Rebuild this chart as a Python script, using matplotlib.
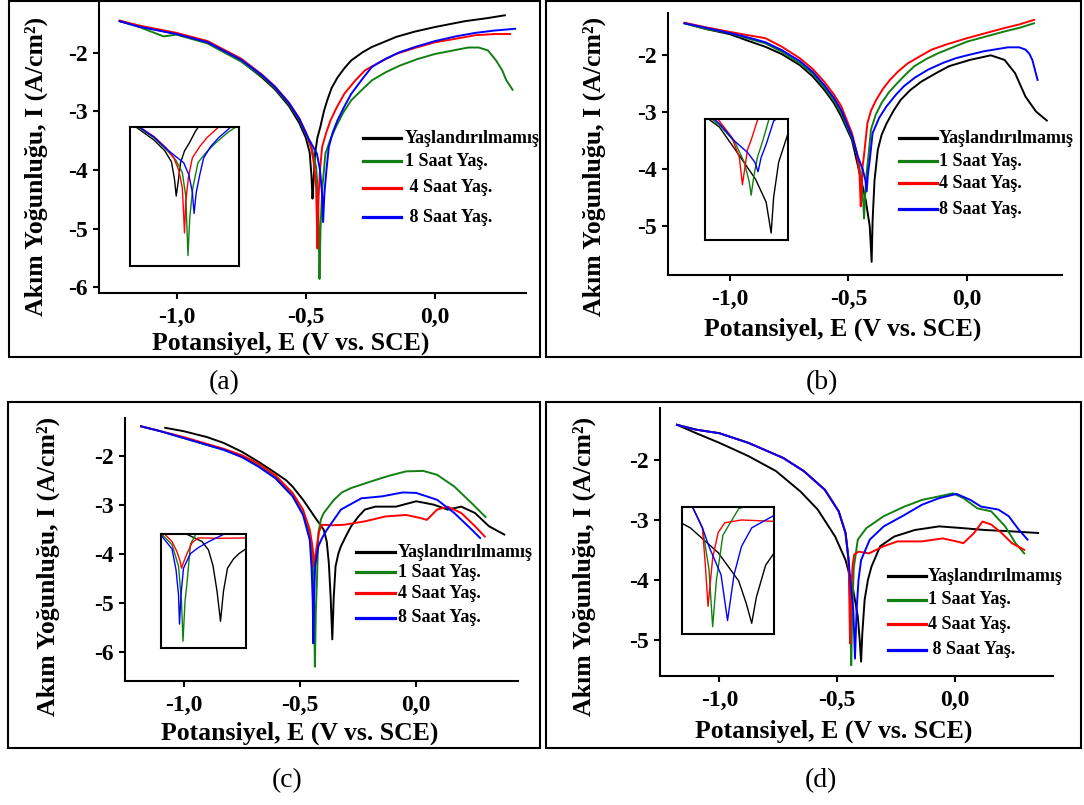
import matplotlib.pyplot as plt
from matplotlib.lines import Line2D
from matplotlib.patches import Rectangle

plt.rcParams['font.family'] = ['Liberation Serif', 'DejaVu Serif']
plt.rcParams['font.weight'] = 'bold'

W, H = 1084, 805

LABELS = ['Yaşlandırılmamış', '1 Saat Yaş.', '4 Saat Yaş.', '8 Saat Yaş.']
COLORS = ['#000000', '#137f13', '#ff0000', '#0000ff']
XTICKS = [-1.0, -0.5, 0.0]
XTICKLABELS = ['-1,0', '-0,5', '0,0']

# ---------- (a) ----------
a_black_E = [-1.22, -1.15, -1.0, -0.88, -0.75, -0.67, -0.62, -0.565, -0.525, -0.50, -0.485, -0.478,
             -0.474, -0.470, -0.464, -0.455, -0.444, -0.43, -0.417, -0.40, -0.377, -0.35, -0.324,
             -0.28, -0.244, -0.20, -0.151, -0.08, 0.0, 0.116, 0.2, 0.27]
a_black_I = [-1.46, -1.54, -1.68, -1.83, -2.14, -2.42, -2.62, -2.91, -3.2, -3.45, -3.7, -4.1,
             -4.49, -4.2, -3.72, -3.45, -3.27, -3.0, -2.81, -2.6, -2.42, -2.26, -2.13,
             -1.99, -1.90, -1.82, -1.73, -1.64, -1.56, -1.46, -1.41, -1.36]
a_green_E = [-1.22, -1.15, -1.05, -1.0, -0.88, -0.75, -0.67, -0.62, -0.565, -0.525, -0.497, -0.475,
             -0.46, -0.452, -0.447, -0.443, -0.436, -0.424, -0.405, -0.384, -0.355, -0.324, -0.28,
             -0.244, -0.19, -0.137, -0.07, 0.0, 0.07, 0.129, 0.169, 0.205, 0.236, 0.26, 0.276, 0.30]
a_green_I = [-1.46, -1.55, -1.72, -1.69, -1.84, -2.15, -2.40, -2.60, -2.88, -3.15, -3.42, -3.66,
             -3.95, -4.5, -5.86, -5.0, -4.3, -3.72, -3.48, -3.27, -3.02, -2.81, -2.62,
             -2.47, -2.33, -2.22, -2.11, -2.02, -1.96, -1.91, -1.91, -1.96, -2.13, -2.30, -2.47, -2.63]
a_red_E = [-1.22, -1.15, -1.0, -0.88, -0.75, -0.67, -0.62, -0.565, -0.525, -0.497, -0.48, -0.468,
           -0.46, -0.457, -0.455, -0.452, -0.446, -0.437, -0.42, -0.404, -0.38, -0.351, -0.31,
           -0.271, -0.21, -0.151, -0.08, 0.0, 0.08, 0.156, 0.23, 0.29]
a_red_I = [-1.45, -1.53, -1.66, -1.80, -2.10, -2.37, -2.57, -2.85, -3.12, -3.38, -3.6, -3.9,
           -4.3, -4.9, -5.34, -4.6, -4.06, -3.61, -3.35, -3.15, -2.93, -2.70, -2.48,
           -2.30, -2.15, -2.02, -1.92, -1.82, -1.76, -1.70, -1.68, -1.68]
a_blue_E = [-1.22, -1.15, -1.0, -0.88, -0.75, -0.67, -0.62, -0.565, -0.525, -0.497, -0.475, -0.457,
            -0.445, -0.437, -0.433, -0.428, -0.42, -0.411, -0.395, -0.377, -0.35, -0.324, -0.28,
            -0.244, -0.19, -0.137, -0.07, 0.0, 0.08, 0.156, 0.23, 0.31]
a_blue_I = [-1.46, -1.55, -1.68, -1.82, -2.12, -2.38, -2.58, -2.86, -3.13, -3.4, -3.58, -3.72,
            -4.0, -4.4, -4.89, -4.4, -4.0, -3.61, -3.35, -3.15, -2.91, -2.70, -2.44,
            -2.24, -2.10, -1.99, -1.89, -1.80, -1.72, -1.66, -1.62, -1.59]

# ---------- (b) ----------
b_black_E = [-1.19, -1.1, -1.0, -0.92, -0.85, -0.78, -0.705, -0.65, -0.602, -0.56, -0.53, -0.485,
             -0.456, -0.427, -0.41, -0.402, -0.398, -0.39, -0.376, -0.36, -0.339, -0.31, -0.28,
             -0.24, -0.193, -0.13, -0.076, 0.012, 0.1, 0.158, 0.202, 0.246, 0.29, 0.336]
b_black_I = [-1.45, -1.55, -1.64, -1.76, -1.86, -1.99, -2.18, -2.38, -2.61, -2.85, -3.08, -3.49,
             -4.01, -4.54, -5.0, -5.62, -4.9, -4.2, -3.66, -3.4, -3.20, -2.98, -2.79,
             -2.62, -2.47, -2.32, -2.20, -2.09, -2.01, -2.09, -2.32, -2.73, -2.99, -3.15]
b_green_E = [-1.19, -1.1, -1.0, -0.92, -0.85, -0.78, -0.705, -0.65, -0.602, -0.56, -0.53, -0.485,
             -0.46, -0.445, -0.437, -0.434, -0.43, -0.424, -0.415, -0.405, -0.385, -0.361, -0.33,
             -0.295, -0.26, -0.222, -0.17, -0.12, -0.06, 0.0, 0.08, 0.16, 0.22, 0.282]
b_green_I = [-1.45, -1.55, -1.62, -1.72, -1.80, -1.95, -2.15, -2.33, -2.57, -2.80, -3.02, -3.45,
             -3.80, -4.2, -4.6, -4.86, -4.5, -4.1, -3.75, -3.31, -3.05, -2.85, -2.66,
             -2.50, -2.35, -2.20, -2.07, -1.97, -1.87, -1.77, -1.68, -1.59, -1.53, -1.45]
b_red_E = [-1.19, -1.1, -1.0, -0.92, -0.85, -0.78, -0.705, -0.65, -0.602, -0.56, -0.53, -0.485,
           -0.465, -0.453, -0.448, -0.444, -0.44, -0.434, -0.42, -0.405, -0.383, -0.355, -0.325,
           -0.29, -0.25, -0.2, -0.149, -0.08, 0.0, 0.08, 0.16, 0.22, 0.282]
b_red_I = [-1.44, -1.52, -1.60, -1.66, -1.71, -1.86, -2.06, -2.25, -2.47, -2.70, -2.90, -3.37,
           -3.70, -4.1, -4.65, -4.3, -3.95, -3.75, -3.20, -2.98, -2.79, -2.60, -2.44,
           -2.29, -2.15, -2.03, -1.91, -1.81, -1.71, -1.62, -1.53, -1.47, -1.39]
b_blue_E = [-1.19, -1.1, -1.0, -0.92, -0.85, -0.78, -0.705, -0.65, -0.602, -0.56, -0.53, -0.485,
            -0.46, -0.44, -0.428, -0.423, -0.418, -0.41, -0.398, -0.37, -0.339, -0.3, -0.266,
            -0.22, -0.164, -0.1, -0.047, 0.0, 0.07, 0.172, 0.22, 0.246, 0.262, 0.275, 0.297]
b_blue_I = [-1.45, -1.53, -1.62, -1.70, -1.78, -1.92, -2.11, -2.30, -2.53, -2.76, -2.97, -3.42,
            -3.78, -4.0, -4.2, -4.39, -4.1, -3.84, -3.37, -3.10, -2.90, -2.70, -2.55,
            -2.40, -2.26, -2.14, -2.06, -2.01, -1.94, -1.87, -1.87, -1.91, -1.98, -2.09, -2.44]

# ---------- (c) ----------
c_black_E = [-1.08, -1.0, -0.9, -0.828, -0.75, -0.68, -0.606, -0.56, -0.532, -0.487, -0.458, -0.428,
             -0.398, -0.385, -0.376, -0.368, -0.361, -0.355, -0.347, -0.335, -0.324, -0.3, -0.28,
             -0.25, -0.221, -0.176, -0.087, 0.0, 0.076, 0.135, 0.194, 0.253, 0.313, 0.379]
c_black_I = [-1.43, -1.50, -1.62, -1.74, -1.92, -2.12, -2.35, -2.50, -2.63, -2.90, -3.10, -3.31,
             -3.51, -3.75, -4.19, -4.9, -5.75, -4.9, -4.26, -4.0, -3.85, -3.62, -3.44,
             -3.25, -3.10, -3.04, -3.04, -2.93, -3.0, -3.10, -3.04, -3.17, -3.44, -3.61]
c_green_E = [-1.184, -1.1, -1.0, -0.9, -0.828, -0.75, -0.68, -0.606, -0.532, -0.487, -0.458, -0.445,
             -0.439, -0.436, -0.432, -0.428, -0.421, -0.41, -0.398, -0.354, -0.32, -0.28, -0.191,
             -0.117, -0.044, 0.03, 0.09, 0.164, 0.239, 0.298]
c_green_I = [-1.40, -1.50, -1.64, -1.78, -1.88, -2.02, -2.20, -2.44, -2.81, -3.18, -3.60, -4.2,
             -5.2, -6.31, -5.2, -4.67, -3.58, -3.30, -3.17, -2.90, -2.75, -2.66, -2.52,
             -2.41, -2.32, -2.31, -2.39, -2.63, -2.97, -3.25]
c_red_E = [-1.184, -1.1, -1.0, -0.9, -0.828, -0.75, -0.68, -0.606, -0.532, -0.487, -0.458, -0.448,
           -0.442, -0.439, -0.435, -0.428, -0.418, -0.406, -0.36, -0.31, -0.221, -0.132, -0.044,
           0.016, 0.046, 0.09, 0.135, 0.194, 0.253, 0.295]
c_red_I = [-1.40, -1.50, -1.62, -1.76, -1.86, -1.99, -2.16, -2.40, -2.76, -3.10, -3.51, -3.8,
           -4.05, -4.26, -4.1, -3.85, -3.55, -3.41, -3.42, -3.41, -3.34, -3.24, -3.21,
           -3.27, -3.31, -3.10, -3.04, -3.17, -3.44, -3.65]
c_blue_E = [-1.184, -1.1, -1.0, -0.9, -0.828, -0.75, -0.68, -0.606, -0.532, -0.487, -0.458, -0.45,
            -0.445, -0.443, -0.44, -0.435, -0.428, -0.421, -0.405, -0.384, -0.324, -0.236, -0.147,
            -0.058, 0.0, 0.09, 0.164, 0.239, 0.275]
c_blue_I = [-1.40, -1.50, -1.64, -1.78, -1.88, -2.03, -2.22, -2.46, -2.83, -3.21, -3.72, -4.3,
            -5.0, -5.83, -5.0, -4.26, -4.05, -3.85, -3.68, -3.51, -3.10, -2.87, -2.83,
            -2.75, -2.76, -2.90, -3.17, -3.51, -3.68]

# ---------- (d) ----------
d_black_E = [-1.18, -1.098, -1.0, -0.877, -0.76, -0.656, -0.583, -0.509, -0.465, -0.435, -0.413,
             -0.405, -0.399, -0.394, -0.384, -0.37, -0.355, -0.318, -0.259, -0.171, -0.068, 0.035,
             0.124, 0.227, 0.352]
d_black_I = [-1.42, -1.56, -1.72, -1.94, -2.19, -2.53, -2.83, -3.28, -3.67, -4.11, -4.61,
             -5.0, -5.36, -4.9, -4.33, -4.0, -3.78, -3.44, -3.28, -3.17, -3.11, -3.14,
             -3.17, -3.19, -3.22]
d_green_E = [-1.18, -1.1, -1.0, -0.877, -0.73, -0.642, -0.553, -0.494, -0.465, -0.452, -0.445,
             -0.441, -0.437, -0.43, -0.413, -0.377, -0.303, -0.215, -0.141, -0.068, -0.009, 0.035,
             0.094, 0.153, 0.212, 0.256, 0.293]
d_green_I = [-1.42, -1.50, -1.56, -1.72, -1.97, -2.19, -2.50, -2.86, -3.22, -3.67, -4.4,
             -5.42, -4.6, -3.8, -3.33, -3.14, -2.94, -2.78, -2.67, -2.61, -2.56, -2.64,
             -2.81, -2.86, -3.11, -3.39, -3.56]
d_red_E = [-1.18, -1.1, -1.0, -0.877, -0.73, -0.642, -0.553, -0.494, -0.465, -0.452, -0.449,
           -0.446, -0.441, -0.435, -0.428, -0.41, -0.366, -0.303, -0.244, -0.141, -0.053, 0.006,
           0.035, 0.08, 0.116, 0.153, 0.197, 0.241, 0.293]
d_red_I = [-1.42, -1.50, -1.56, -1.72, -1.97, -2.19, -2.50, -2.86, -3.22, -3.67, -4.3,
           -5.06, -4.2, -3.75, -3.58, -3.53, -3.56, -3.44, -3.36, -3.36, -3.31, -3.36,
           -3.39, -3.22, -3.03, -3.08, -3.22, -3.39, -3.5]
d_blue_E = [-1.18, -1.1, -1.0, -0.877, -0.73, -0.642, -0.553, -0.494, -0.465, -0.452, -0.445,
            -0.432, -0.425, -0.418, -0.41, -0.399, -0.362, -0.303, -0.215, -0.141, -0.068, 0.006,
            0.065, 0.109, 0.183, 0.227, 0.271, 0.307]
d_blue_I = [-1.42, -1.50, -1.56, -1.72, -1.97, -2.19, -2.50, -2.86, -3.22, -3.67, -4.0,
            -4.5, -5.31, -4.5, -4.0, -3.67, -3.33, -3.11, -2.92, -2.75, -2.64, -2.57,
            -2.67, -2.78, -2.83, -2.94, -3.17, -3.33]


def frac_rect(x0, y0, x1, y1):
    return [x0 / W, 1 - y1 / H, (x1 - x0) / W, (y1 - y0) / H]


fig = plt.figure(figsize=(W / 100, H / 100), dpi=100)


def draw_panel(curves, ax_px, xlim, ylim, yticks, ylab_xy, xlab_xy,
               inset_px, inset_xlim, inset_ylim, legend, box_px, letter, letter_xy):
    ax = fig.add_axes(frac_rect(*ax_px))
    ax.patch.set_alpha(0)
    for (E, I), c in zip(curves, COLORS):
        ax.plot(E, I, color=c, lw=1.4)
    ax.set_xlim(*xlim)
    ax.set_ylim(*ylim)
    ax.set_xticks(XTICKS)
    ax.set_xticklabels(XTICKLABELS)
    ax.set_yticks(yticks)
    ax.set_yticklabels(['%d' % t for t in yticks])
    for s in ['top', 'right']:
        ax.spines[s].set_visible(False)
    for s in ['left', 'bottom']:
        ax.spines[s].set_linewidth(1.5)
    ax.tick_params(direction='out', length=4, width=1.5, labelsize=17)
    ax.tick_params(axis='x', pad=6)
    ax.tick_params(axis='y', pad=4)
    ax.set_xlabel('Potansiyel, E (V vs. SCE)', fontsize=18.5, fontweight='bold')
    ax.set_ylabel('Akım Yoğunluğu, I (A/cm²)', fontsize=18.5, fontweight='bold')
    ax.xaxis.set_label_coords(*xlab_xy)
    ax.yaxis.set_label_coords(*ylab_xy)

    ins = fig.add_axes(frac_rect(*inset_px))
    for (E, I), c in zip(curves, COLORS):
        ins.plot(E, I, color=c, lw=1.0)
    ins.set_xlim(*inset_xlim)
    ins.set_ylim(*inset_ylim)
    ins.set_xticks([])
    ins.set_yticks([])
    for s in ins.spines.values():
        s.set_linewidth(1.5)

    lx0, lx1, tx, ys, texts = legend
    for y, c, t in zip(ys, COLORS, texts):
        fig.add_artist(Line2D([lx0 / W, lx1 / W], [1 - y / H, 1 - y / H], color=c, lw=2.3))
        fig.text(tx / W, 1 - y / H, t, fontsize=13, fontweight='bold', va='center', ha='left')

    bx0, by0, bx1, by1 = box_px
    fig.add_artist(Rectangle((bx0 / W, 1 - by1 / H), (bx1 - bx0) / W, (by1 - by0) / H,
                             transform=fig.transFigure, fill=False, lw=1.5, ec='black'))
    fig.text(letter_xy[0] / W, 1 - letter_xy[1] / H, letter, fontsize=20,
             fontweight='normal', ha='center', va='center')


draw_panel([(a_black_E, a_black_I), (a_green_E, a_green_I), (a_red_E, a_red_I), (a_blue_E, a_blue_I)],
           (99, 3, 526, 293), (-1.30, 0.352), (-6.1, -1.15), [-6, -5, -4, -3, -2],
           (-0.119, 0.438), (0.45, -0.134),
           (130, 127, 239, 266), (-0.58, -0.33), (-6.1, -2.9),
           (363, 401, 405, [138, 161, 188, 217],
            ['Yaşlandırılmamış', '1 Saat Yaş.', ' 4 Saat Yaş.', ' 8 Saat Yaş.']),
           (9, 1, 540, 357), '(a)', (224, 383))

draw_panel([(b_black_E, b_black_I), (b_green_E, b_green_I), (b_red_E, b_red_I), (b_blue_E, b_blue_I)],
           (668, 13, 1062, 275), (-1.26, 0.40), (-5.85, -1.27), [-5, -4, -3, -2],
           (-0.157, 0.416), (0.443, -0.164),
           (705, 119, 788, 240), (-0.508, -0.375), (-5.76, -3.33),
           (899, 937, 939, [138, 161, 183, 209], LABELS),
           (546, 1, 1081, 357), '(b)', (822, 383))

draw_panel([(c_black_E, c_black_I), (c_green_E, c_green_I), (c_red_E, c_red_I), (c_blue_E, c_blue_I)],
           (125, 418, 518, 681), (-1.253, 0.438), (-6.6, -1.23), [-6, -5, -4, -3, -2],
           (-0.165, 0.437), (0.444, -0.156),
           (161, 534, 246, 648), (-0.48, -0.31), (-6.5, -3.3),
           (356, 395, 398, [552, 572, 593, 618], LABELS),
           (8, 402, 540, 748), '(c)', (287, 781))

draw_panel([(d_black_E, d_black_I), (d_green_E, d_green_I), (d_red_E, d_red_I), (d_blue_E, d_blue_I)],
           (660, 408, 1053, 676), (-1.252, 0.415), (-5.6, -1.14), [-5, -4, -3, -2],
           (-0.164, 0.407), (0.443, -0.164),
           (682, 507, 774, 634), (-0.474, -0.375), (-5.55, -3.3),
           (888, 926, 928, [576, 600, 624, 650],
            ['Yaşlandırılmamış', '1 Saat Yaş.', '4 Saat Yaş.', ' 8 Saat Yaş.']),
           (546, 402, 1081, 748), '(d)', (821, 781))

fig.savefig('out.png', dpi=100)
